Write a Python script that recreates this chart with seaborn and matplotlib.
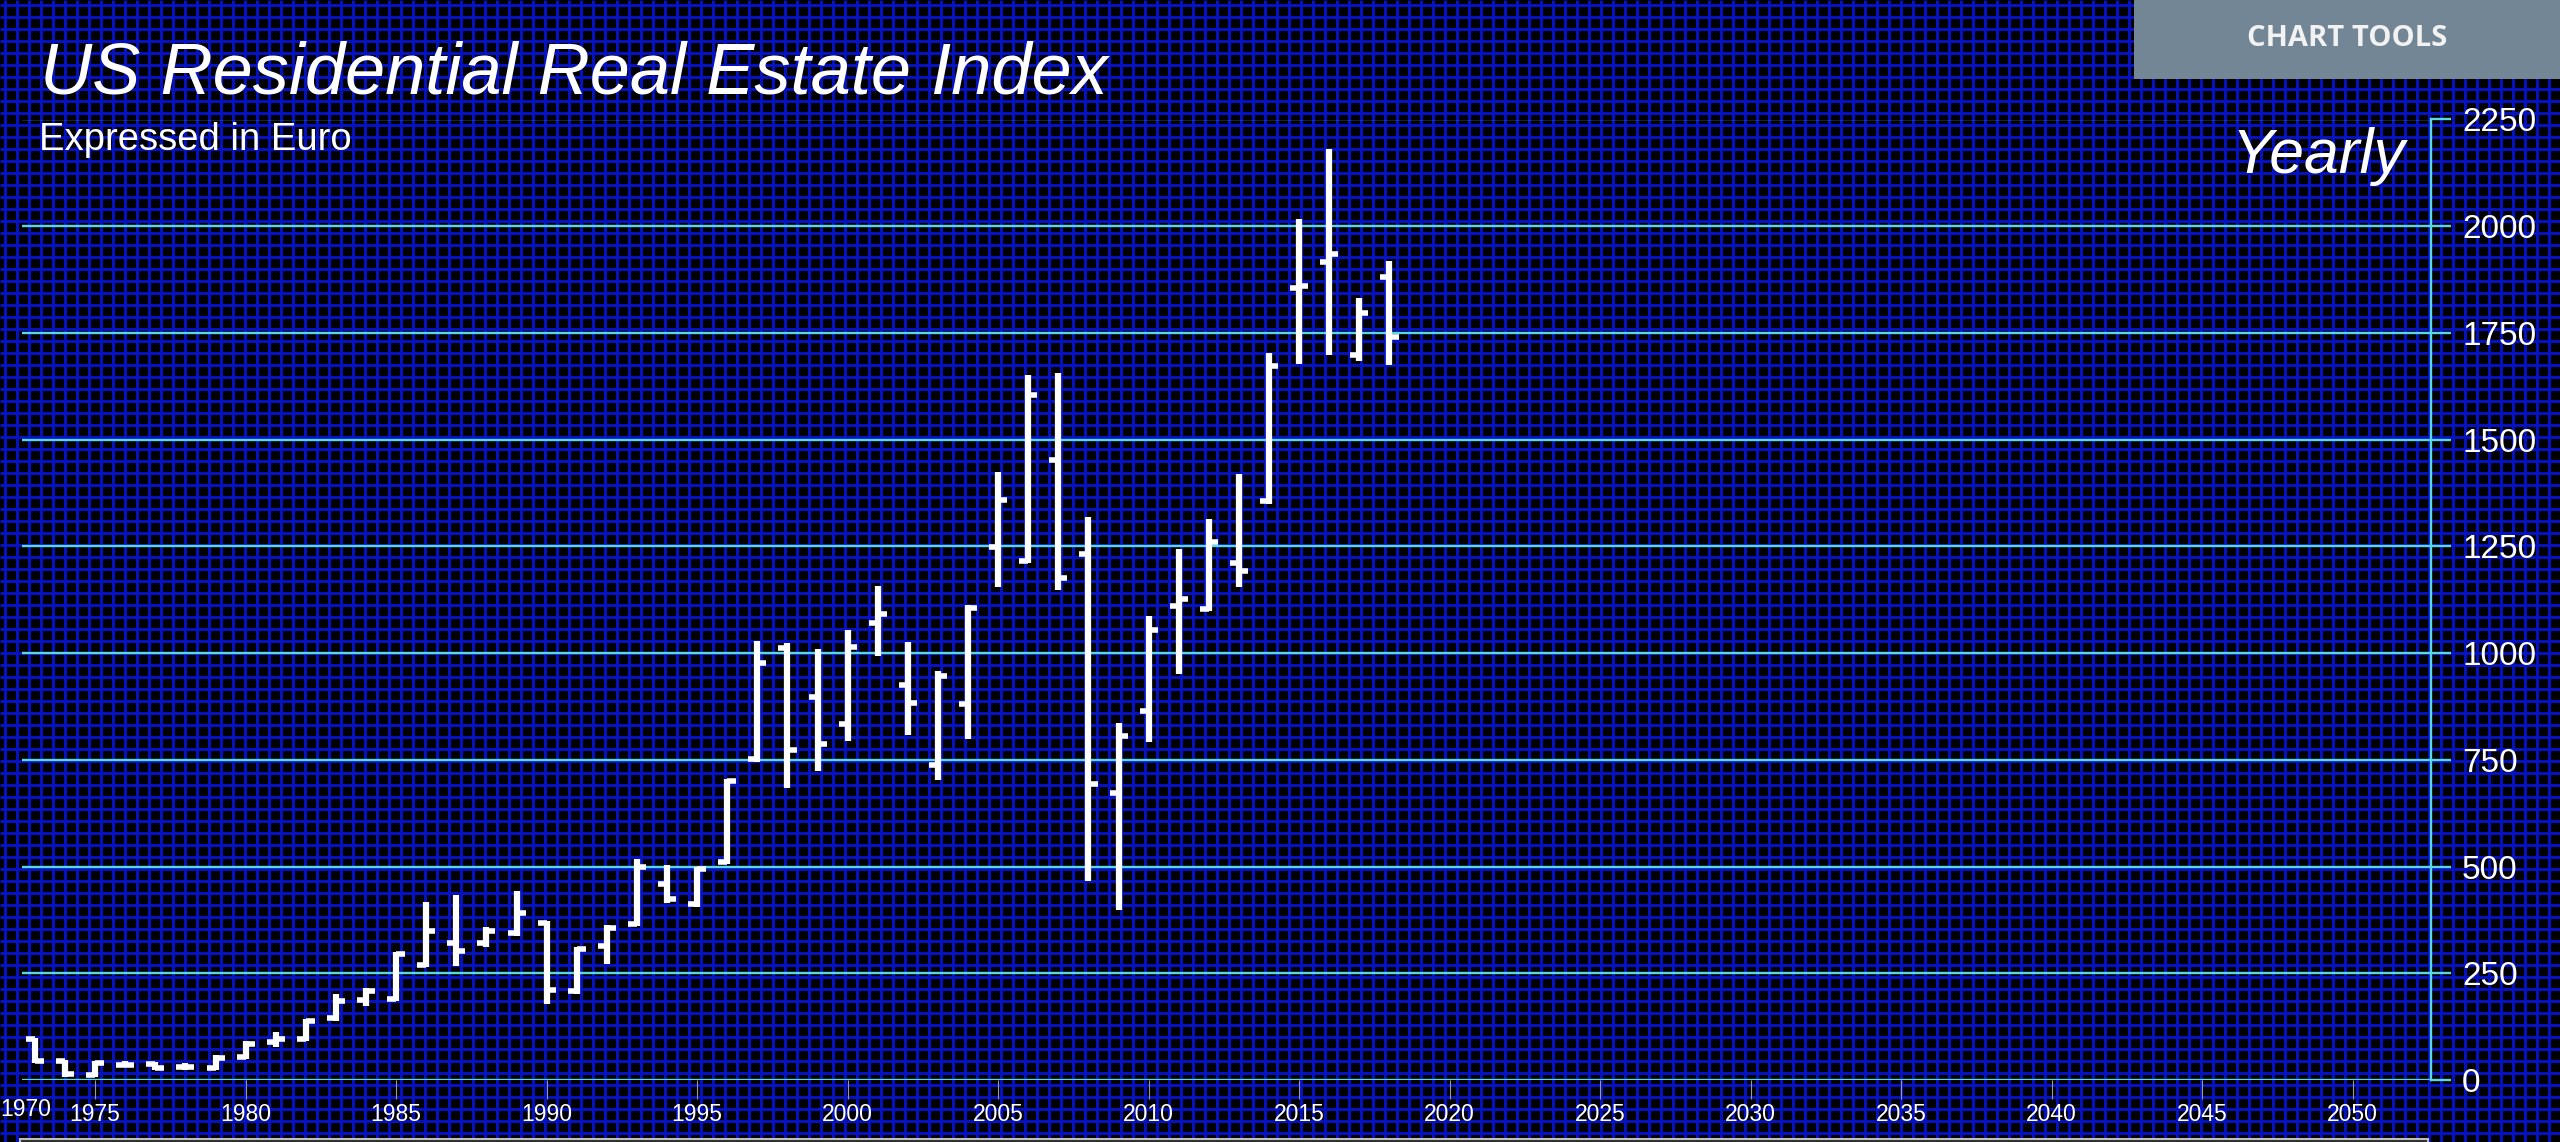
"""US residential real estate index, yearly OHLC bars in euro."""

import matplotlib.pyplot as plt
import matplotlib.patches as mpatches
import numpy as np
import pandas as pd
import seaborn as sns

W, H = 2560, 1142

years = list(range(1973, 2019))
opens = [95, 45, 12, 35, 37, 30, 27, 55, 88, 97, 145, 188, 190, 270, 320, 320,
         344, 368, 208, 315, 365, 460, 413, 510, 752, 1012, 898, 834, 1071, 925,
         739, 880, 1248, 1216, 1453, 1232, 673, 864, 1111, 1104, 1211, 1356,
         1856, 1916, 1699, 1881]
highs = [99, 47, 45, 45, 41, 40, 58, 92, 112, 143, 202, 216, 300, 418, 433, 358,
         442, 372, 311, 362, 517, 503, 500, 706, 1028, 1023, 1009, 1053, 1158,
         1026, 957, 1113, 1424, 1651, 1657, 1318, 836, 1088, 1245, 1313, 1419,
         1702, 2018, 2182, 1833, 1918]
lows = [39, 8, 8, 30, 24, 24, 24, 49, 78, 92, 138, 174, 184, 264, 268, 311,
        338, 178, 202, 272, 360, 415, 405, 505, 746, 683, 725, 795, 994, 808,
        703, 798, 1155, 1211, 1148, 465, 399, 791, 952, 1099, 1155, 1350, 1678,
        1698, 1684, 1674]
closes = [45, 14, 40, 36, 29, 30, 52, 85, 95, 138, 185, 208, 296, 350, 302, 350,
          392, 210, 306, 355, 498, 425, 494, 700, 977, 772, 787, 1014, 1091, 884,
          946, 1105, 1358, 1605, 1176, 693, 805, 1055, 1127, 1261, 1192, 1672,
          1860, 1936, 1797, 1741]

x_ticks = list(range(1975, 2051, 5))
y_ticks = list(range(0, 2251, 250))

df = pd.DataFrame({"Year": years, "Open": opens, "High": highs,
                   "Low": lows, "Close": closes})
hl = df.melt(id_vars="Year", value_vars=["Low", "High"], value_name="Value")

sns.set_theme(style="dark")
plt.rcParams["font.family"] = ["Liberation Sans", "DejaVu Sans"]

CYAN = "#5ad8e2"
GRIDBLUE = "#0612c6"


def fx(px):
    return px / W


def fy(py):
    return 1 - py / H


fig = plt.figure(figsize=(W / 100, H / 100), dpi=100, facecolor="black")

# background mesh
bg = fig.add_axes([0, 0, 1, 1], zorder=-10)
bg.set_xlim(0, W)
bg.set_ylim(H, 0)
bg.axis("off")
bg.vlines(np.arange(5, W, 12), 0, H, color=GRIDBLUE, lw=2.1)
bg.hlines(np.arange(5, H, 12), 0, W, color=GRIDBLUE, lw=2.1)

# main chart
ax = fig.add_axes([fx(22), fy(1080), fx(2431 - 22), (1080 - 119.5) / H], zorder=1)
ax.set_facecolor("none")

sns.lineplot(data=hl, x="Year", y="Value", units="Year", estimator=None,
             color="white", lw=4.5, solid_capstyle="butt", ax=ax)
tw = 0.3
ax.hlines(df["Open"], df["Year"] - tw, df["Year"], color="white", lw=4.0)
ax.hlines(df["Close"], df["Year"], df["Year"] + tw, color="white", lw=4.0)

ax.set_xlim(1972.57, 2052.6)
ax.set_ylim(0, 2250)
ax.set_xticks(x_ticks)
ax.set_yticks(y_ticks)
ax.set_xlabel("")
ax.set_ylabel("")

ax.yaxis.tick_right()
ax.grid(False)
ax.yaxis.grid(True, color=CYAN, lw=1.7)
ax.tick_params(axis="y", which="both", right=True, left=False, length=14.4,
               width=1.7, color=CYAN, labelsize=24, labelcolor="white", pad=8)
ax.tick_params(axis="x", bottom=True, length=13.5, width=0.8, color="#9a9a9a",
               labelsize=16.5, labelcolor="white", pad=3)
for s in ["left", "top", "bottom"]:
    ax.spines[s].set_visible(False)
ax.spines["right"].set_color(CYAN)
ax.spines["right"].set_linewidth(1.7)

fig.text(fx(0), fy(1110), "1970", ha="left", va="center", fontsize=16.5,
         color="white")

# texts
fig.text(fx(40), fy(94), "US Residential Real Estate Index", ha="left",
         va="baseline", fontsize=52, style="italic", color="white")
fig.text(fx(39), fy(150), "Expressed in Euro", ha="left", va="baseline",
         fontsize=27.5, color="white")
fig.text(fx(2405), fy(173), "Yearly", ha="right", va="baseline", fontsize=45,
         style="italic", color="white")

# chart tools button
fig.patches.append(mpatches.Rectangle((fx(2134), fy(79)), fx(W - 2134), 79 / H,
                                      transform=fig.transFigure,
                                      facecolor="#728696", edgecolor="none",
                                      zorder=5))
fig.text(fx(2347), fy(38), "CHART TOOLS", ha="center", va="center",
         fontsize=21, color="#f2f2f2", weight="bold",
         family=["Open Sans", "DejaVu Sans"], zorder=6)

# navigator strip at the bottom
fig.patches.append(mpatches.Rectangle((fx(20), fy(H + 5)), fx(2408), 8 / H,
                                      transform=fig.transFigure,
                                      facecolor="#2e2e2e", edgecolor="#bdbdbd",
                                      lw=1.5, zorder=5))

fig.savefig("out.png", dpi=100, facecolor=fig.get_facecolor())
